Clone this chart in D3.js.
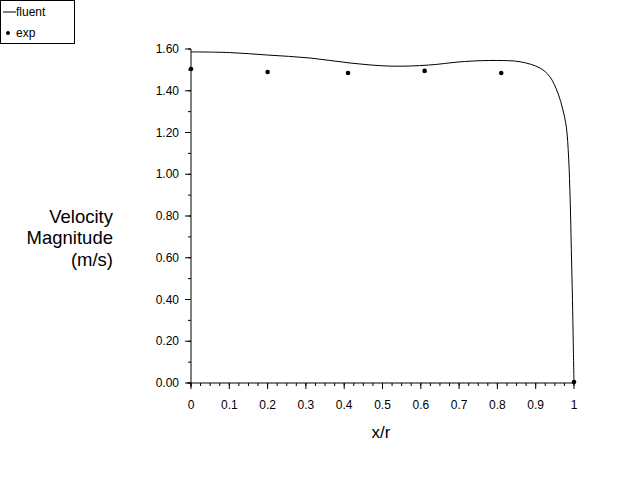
<!DOCTYPE html>
<html><head><meta charset="utf-8">
<script src="https://cdn.jsdelivr.net/npm/d3@7"></script>
<style>body{margin:0;background:#fff}svg{display:block;font-family:"Liberation Sans",Arial,sans-serif}</style>
</head><body><svg id="c" width="640" height="480"></svg>
<script>
const fluentX = [0, 0.1, 0.2, 0.31, 0.415, 0.52, 0.62, 0.70, 0.755, 0.80, 0.859, 0.911, 0.937, 0.958, 0.971, 0.980, 0.986, 0.990, 0.993, 0.996, 0.998, 1.0];
const fluentY = [1.586, 1.583, 1.571, 1.557, 1.533, 1.518, 1.523, 1.538, 1.544, 1.545, 1.539, 1.509, 1.467, 1.389, 1.308, 1.226, 1.078, 0.877, 0.64, 0.40, 0.20, 0.0];
const expX = [0, 0.2, 0.41, 0.61, 0.81, 1.0];
const expY = [1.504, 1.49, 1.485, 1.495, 1.485, 0.005];
const xTicks = [0, 0.1, 0.2, 0.3, 0.4, 0.5, 0.6, 0.7, 0.8, 0.9, 1];
const yTicks = [0, 0.2, 0.4, 0.6, 0.8, 1.0, 1.2, 1.4, 1.6];
const legendLabels = ["fluent", "exp"];

const svg = d3.select("#c");
const x = d3.scaleLinear().domain([0, 1]).range([191, 574]);
const y = d3.scaleLinear().domain([0, 1.6]).range([383, 49]);

// x axis
const xMinor = d3.range(0, 1.0001, 0.025);
const gx = svg.append("g");
gx.append("line").attr("x1", x(0) - 4).attr("x2", x(1)).attr("y1", y(0)).attr("y2", y(0)).attr("stroke", "#000");
gx.selectAll(".mn").data(xMinor).enter().append("line")
  .attr("x1", d => x(d)).attr("x2", d => x(d)).attr("y1", y(0)).attr("y2", y(0) + 3).attr("stroke", "#000");
gx.selectAll(".mj").data(xTicks).enter().append("line")
  .attr("x1", d => x(d)).attr("x2", d => x(d)).attr("y1", y(0)).attr("y2", y(0) + 6).attr("stroke", "#000");
gx.selectAll("text").data(xTicks).enter().append("text")
  .attr("x", d => x(d)).attr("y", 409).attr("text-anchor", "middle").attr("font-size", 12)
  .text(d => d === 0 || d === 1 ? String(d) : d3.format(".1f")(d));

// y axis
const yMinor = d3.range(0, 1.6001, 0.1);
const gy = svg.append("g");
gy.append("line").attr("x1", x(0)).attr("x2", x(0)).attr("y1", y(1.6)).attr("y2", y(0) + 4).attr("stroke", "#000");
gy.selectAll(".mn").data(yMinor).enter().append("line")
  .attr("x1", x(0) - 3).attr("x2", x(0)).attr("y1", d => y(d)).attr("y2", d => y(d)).attr("stroke", "#000");
gy.selectAll(".mj").data(yTicks).enter().append("line")
  .attr("x1", x(0) - 6).attr("x2", x(0)).attr("y1", d => y(d)).attr("y2", d => y(d)).attr("stroke", "#000");
gy.selectAll("text").data(yTicks).enter().append("text")
  .attr("x", 179).attr("y", d => y(d) + 4).attr("text-anchor", "end").attr("font-size", 12)
  .text(d => d3.format(".2f")(d));

// titles
svg.append("text").attr("x", 381).attr("y", 438).attr("text-anchor", "middle").attr("font-size", 17).text("x/r");
const yl = ["Velocity", "Magnitude", "(m/s)"];
svg.selectAll(".yl").data(yl).enter().append("text")
  .attr("x", 113).attr("y", (d, i) => 222.5 + i * 21.5).attr("text-anchor", "end").attr("font-size", 18.5).text(d => d);

// fluent line
const pts = fluentX.map((d, i) => [d, fluentY[i]]);
svg.append("path").datum(pts)
  .attr("d", d3.line().x(d => x(d[0])).y(d => y(d[1])).curve(d3.curveCatmullRom.alpha(0.5)))
  .attr("fill", "none").attr("stroke", "#000").attr("stroke-width", 1);

// exp points
svg.selectAll(".pt").data(expX).enter().append("circle")
  .attr("cx", d => x(d)).attr("cy", (d, i) => y(expY[i])).attr("r", 2.3).attr("fill", "#000");

// legend
const lg = svg.append("g");
lg.append("rect").attr("x", 0.5).attr("y", 0.5).attr("width", 74).attr("height", 43).attr("fill", "#fff").attr("stroke", "#000");
lg.append("line").attr("x1", 3).attr("x2", 16).attr("y1", 12).attr("y2", 12).attr("stroke", "#000");
lg.append("text").attr("x", 16).attr("y", 16).attr("font-size", 12).text(legendLabels[0]);
lg.append("circle").attr("cx", 8).attr("cy", 33).attr("r", 2).attr("fill", "#000");
lg.append("text").attr("x", 16).attr("y", 37).attr("font-size", 12).text(legendLabels[1]);
</script></body></html>
